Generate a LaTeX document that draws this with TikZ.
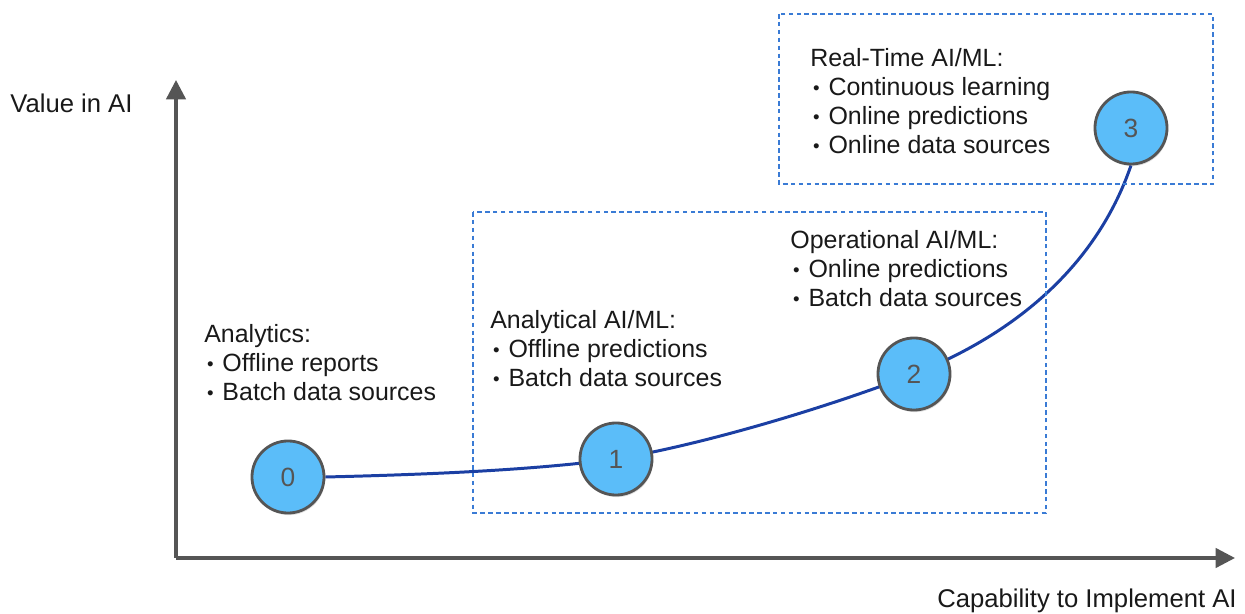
\documentclass[tikz,border=0pt]{standalone}
\usepackage{fontspec}
\setmainfont{Liberation Sans}
\usetikzlibrary{arrows.meta,shadows,backgrounds}
\definecolor{axisgray}{HTML}{555555}
\definecolor{stagefill}{HTML}{5BBDF9}
\definecolor{curveblue}{HTML}{1B3FA3}
\definecolor{boxblue}{HTML}{3A7BD5}
\tikzset{
  axis/.style={draw=axisgray, line width=1.9pt, -{Triangle[length=11pt,width=11pt]}},
  stage/.style={circle, minimum size=41pt, inner sep=0pt, fill=stagefill, draw=axisgray,
    line width=1.6pt, text=axisgray, font=\fontsize{15}{17}\selectfont,
    drop shadow={opacity=0.25, shadow xshift=0.6pt, shadow yshift=-1.2pt}},
  growth/.style={draw=curveblue, line width=1.7pt},
  zone/.style={draw=boxblue, line width=1.3pt, dash pattern=on 2.6pt off 1.9pt},
  label/.style={anchor=north west, inner sep=0pt, align=left, text=black!90,
    font=\fontsize{14.2}{16.6}\selectfont},
  axislabel/.style={inner sep=0pt, text=black!90, font=\fontsize{14.6}{16.6}\selectfont}
}
\newcommand{\bul}{\hspace*{1.6pt}\raisebox{0.6pt}{\scalebox{0.75}{\textbullet}}\hspace*{5pt}}
\begin{document}
\begin{tikzpicture}[x=0.02cm, y=-0.02cm]
  \useasboundingbox (0,0) rectangle (1245,614);

  % axes
  \coordinate (origin) at (176,558);
  \coordinate (ytip) at (176,80);
  \coordinate (xtip) at (1235,558);
  \draw[axis] (origin) -- (ytip);
  \draw[axis] (origin) -- (xtip);
  \node[axislabel, anchor=west] (ylab) at (10,103) {Value in AI};
  \node[axislabel, anchor=east] (xlab) at (1237,601) {Capability to Implement AI};

  % dotted zones
  \draw[zone] (473,212) rectangle (1046,513);
  \draw[zone] (779,14) rectangle (1213,184);

  % stages
  \node[stage] (s0) at (288,477) {0};
  \node[stage] (s1) at (616,459) {1};
  \node[stage] (s2) at (914,374) {2};
  \node[stage] (s3) at (1131,128) {3};

  % growth curve behind the stages
  \begin{pgfonlayer}{background}
    \draw[growth] (s0.east) .. controls (450,474) and (540,469) .. (s1.center)
      .. controls (700,445) and (820,410) .. (s2.center)
      .. controls (1010,336) and (1095,270) .. (s3.south);
  \end{pgfonlayer}

  % stage descriptions
  \node[label] (t0) at (204,324) {Analytics:\\\bul Offline reports\\\bul Batch data sources};
  \node[label] (t1) at (490,310) {Analytical AI/ML:\\\bul Offline predictions\\\bul Batch data sources};
  \node[label] (t2) at (790,230) {Operational AI/ML:\\\bul Online predictions\\\bul Batch data sources};
  \node[label] (t3) at (810,48) {Real-Time AI/ML:\\\bul Continuous learning\\\bul Online predictions\\\bul Online data sources};
\end{tikzpicture}
\end{document}
